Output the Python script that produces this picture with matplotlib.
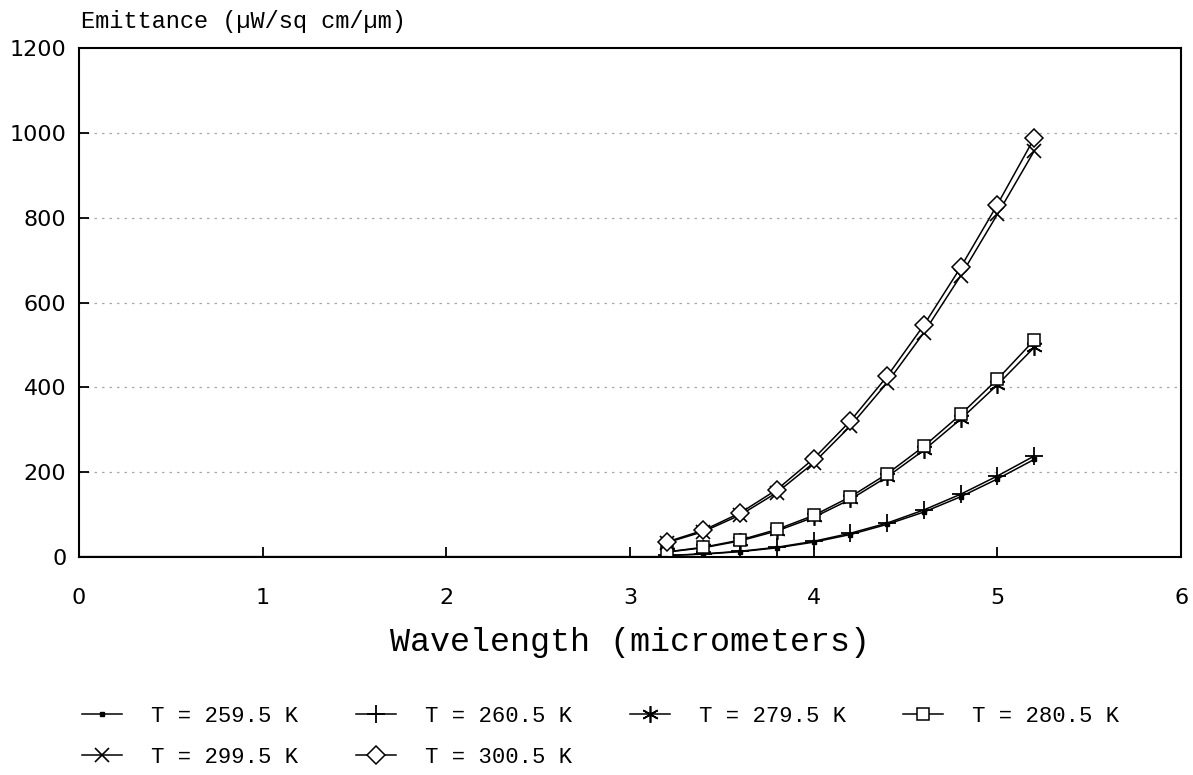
"""Spectral emittance of a blackbody at six temperatures, 3.2 to 5.2 um."""

import matplotlib
matplotlib.use('Agg')
import matplotlib.pyplot as plt

wavelength = [3.2, 3.4, 3.6, 3.8, 4.0, 4.2, 4.4, 4.6, 4.8, 5.0, 5.2]

t259_5 = [3.4, 6.8, 12.6, 21.6, 35, 53, 77, 106, 142, 184, 230]
t260_5 = [3.6, 7.3, 13.5, 23, 37, 56, 80, 111, 148, 191, 238]
t279_5 = [11.5, 21.8, 38, 61.5, 93.5, 136, 189, 252, 325, 406, 494]
t280_5 = [12, 23, 40, 65, 98, 142, 196, 261, 336, 419, 511]
t299_5 = [33.7, 60, 99, 152, 222, 309, 411, 529, 663, 808, 957]
t300_5 = [35.5, 63, 104, 159, 232, 321, 426, 547, 683, 831, 987]

labels = ['T = 259.5 K', 'T = 260.5 K', 'T = 279.5 K',
          'T = 280.5 K', 'T = 299.5 K', 'T = 300.5 K']
series = [t259_5, t260_5, t279_5, t280_5, t299_5, t300_5]

MARKERS = [
    dict(marker='s', ms=3),
    dict(marker='+', ms=13, mew=1.3),
    dict(marker=(6, 2, 0), ms=12, mew=1.2),
    dict(marker='s', ms=9, mfc='white', mew=1.1),
    dict(marker='x', ms=10, mew=1.2),
    dict(marker='D', ms=9, mfc='white', mew=1.1),
]

MONO = 'Liberation Mono'


def main():
    fig = plt.figure(figsize=(11.93, 7.75), dpi=100)
    ax = fig.add_axes([0.0662, 0.2813, 0.9238, 0.6567])

    for yv in range(200, 1001, 200):
        ax.axhline(yv, color='#a8a8a8', lw=0.9, ls=(0, (2, 4)), zorder=0)

    handles = []
    for vals, lab, mk in zip(series, labels, MARKERS):
        h, = ax.plot(wavelength, vals, color='black', lw=1.1, label=lab,
                     mec='black', **mk)
        handles.append(h)
    # baseline curve along zero
    ax.plot([0, 3.2], [0, 0], color='black', lw=1.6)

    ax.set_xlim(0, 6)
    ax.set_ylim(0, 1200)
    ax.set_xticks(range(0, 7))
    ax.set_yticks(range(0, 1201, 200))
    for s in ax.spines.values():
        s.set_linewidth(1.5)
    ax.tick_params(direction='in', length=7, width=1.3, labelsize=16)
    ax.tick_params(axis='x', pad=22)
    ax.tick_params(axis='y', pad=9)

    ax.set_xlabel('Wavelength (micrometers)', family=MONO, fontsize=24,
                  labelpad=14)
    fig.text(0.068, 0.972, 'Emittance (\u00b5W/sq cm/\u00b5m)', family=MONO,
             fontsize=17, va='center', ha='left')

    # legend is filled column by column; order so it reads row by row
    order = [0, 4, 1, 5, 2, 3]
    fig.legend([handles[i] for i in order], [labels[i] for i in order],
               loc='upper left', bbox_to_anchor=(0.052, 0.115),
               ncol=4, frameon=False, prop={'family': MONO, 'size': 16},
               handlelength=1.8, handletextpad=1.3, columnspacing=2.6,
               labelspacing=0.9)

    fig.savefig('out.png', dpi=100)


if __name__ == '__main__':
    main()
